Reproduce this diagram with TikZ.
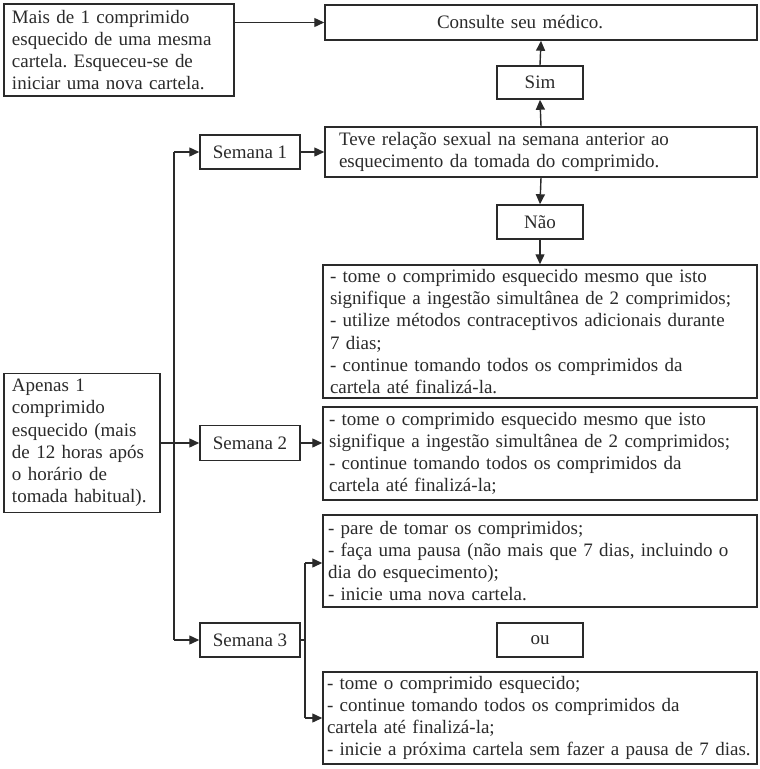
\documentclass[tikz,border=0pt]{standalone}
\usepackage{fontspec}
\setmainfont{Liberation Serif}
\usetikzlibrary{arrows.meta}
\definecolor{ink}{HTML}{2A2A2A}
\frenchspacing
\begin{document}
\frenchspacing
\begin{tikzpicture}[x=1pt,y=-1pt,
  box/.style={draw=ink,text=ink,line width=1.5pt,inner ysep=0pt,
    font=\fontsize{19}{22.2}\selectfont},
  cbox/.style={box,align=center,inner xsep=0pt},
  lbox/.style={box,align=left},
  arr/.style={draw=ink,line width=1.4pt,-{Triangle[length=10pt,width=9pt]}},
  ln/.style={draw=ink,line width=1.4pt}]
\useasboundingbox (0,0) rectangle (760,769);
\node[lbox,inner xsep=8pt,text width=214pt,minimum height=92pt] (mais) at (119,50)
  {Mais de 1 comprimido\\esquecido de uma mesma\\cartela. Esqueceu-se de\\iniciar uma nova cartela.};
\node[lbox,inner xsep=112pt,text width=208pt,minimum height=35pt] (consulte) at (541,22.5) {Consulte seu médico.};
\node[cbox,minimum width=86pt,minimum height=33pt] (sim) at (540,82.5) {Sim};
\node[lbox,inner xsep=14pt,text width=404pt,minimum height=50pt] (teve) at (541,152)
  {Teve relação sexual na semana anterior ao\\esquecimento da tomada do comprimido.};
\node[cbox,minimum width=86pt,minimum height=34pt] (nao) at (540,222) {Não};
\node[lbox,inner xsep=7pt,text width=420pt,minimum height=133pt] (tome1) at (540,331.5)
  {- tome o comprimido esquecido mesmo que isto\\signifique a ingestão simultânea de 2 comprimidos;\\- utilize métodos contraceptivos adicionais durante\\7 dias;\\- continue tomando todos os comprimidos da\\cartela até finalizá-la.};
\node[cbox,minimum width=100pt,minimum height=34pt] (sem1) at (250,152) {Semana 1};
\node[lbox,inner xsep=8pt,text width=140pt,minimum height=139pt] (apenas) at (82,443)
  {Apenas 1\\comprimido\\esquecido (mais\\de 12 horas após\\o horário de\\tomada habitual).};
\node[cbox,minimum width=100pt,minimum height=35pt] (sem2) at (250,443) {Semana 2};
\node[lbox,inner xsep=6pt,text width=422pt,minimum height=93pt] (tome2) at (540,453.5)
  {- tome o comprimido esquecido mesmo que isto\\signifique a ingestão simultânea de 2 comprimidos;\\- continue tomando todos os comprimidos da\\cartela até finalizá-la;};
\node[lbox,inner xsep=5pt,text width=424pt,minimum height=92pt] (pare) at (540,561)
  {- pare de tomar os comprimidos;\\- faça uma pausa (não mais que 7 dias, incluindo o\\dia do esquecimento);\\- inicie uma nova cartela.};
\node[cbox,minimum width=100pt,minimum height=34pt] (sem3) at (250,640) {Semana 3};
\node[cbox,minimum width=86pt,minimum height=34pt] (ou) at (540,640) {ou};
\node[lbox,inner xsep=4pt,text width=426pt,minimum height=92pt] (tome3) at (540,718)
  {- tome o comprimido esquecido;\\- continue tomando todos os comprimidos da\\cartela até finalizá-la;\\- inicie a próxima cartela sem fazer a pausa de 7 dias.};
% connectors
\draw[arr] (mais.east |- consulte.west) -- (consulte.west);
\draw[arr] (sim.north) -- (consulte.south);
\draw[arr] (teve.north) -- (sim.south);
\draw[arr] (teve.south) -- (nao.north);
\draw[arr] (nao.south) -- (tome1.north);
\draw[arr] (sem1.east) -- (teve.west |- sem1.east);
\coordinate (t1) at (174,152);
\coordinate (t3) at (174,640);
\draw[ln] (t1) -- (t3);
\draw[arr] (t1) -- (sem1.west);
\draw[arr] (t3) -- (sem3.west);
\draw[arr] (apenas.east) -- (sem2.west);
\draw[arr] (sem2.east) -- (tome2.west |- sem2.east);
\coordinate (b) at (305,640);
\coordinate (b1) at (305,563);
\coordinate (b2) at (305,718);
\draw[ln] (sem3.east) -- (b);
\draw[ln] (b1) -- (b2);
\draw[arr] (b1) -- (pare.west |- b1);
\draw[arr] (b2) -- (tome3.west);
\end{tikzpicture}
\end{document}
